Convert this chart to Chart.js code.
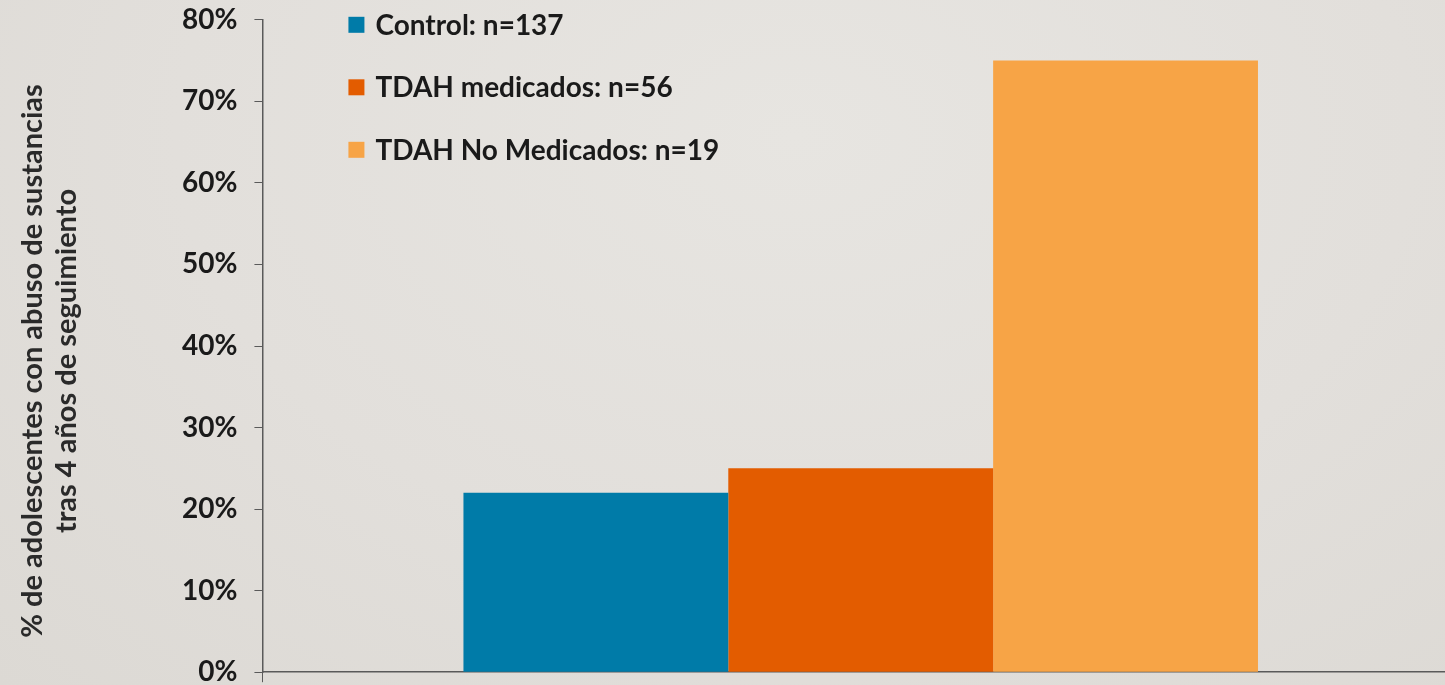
<!DOCTYPE html>
<html>
<head>
<meta charset="utf-8">
<script src="https://cdn.jsdelivr.net/npm/chart.js@4/dist/chart.umd.min.js"></script>
<style>
  html, body { margin: 0; padding: 0; }
  body {
    width: 1445px; height: 685px; overflow: hidden; position: relative;
    background: radial-gradient(ellipse at 55% 20%, #e7e5e1 0%, #e2dfdb 55%, #dcd9d4 100%);
  }
  /* canvas a bit larger than the window so the plot fills it like the slide */
  #wrap { position: absolute; left: 0; top: -14px; width: 1459px; height: 720px; }
</style>
</head>
<body>
<div id="wrap"><canvas id="chart"></canvas></div>
<script>
'use strict';

// chart data
const categories = [''];
const seriesLabels = ['Control: n=137', 'TDAH medicados: n=56', 'TDAH No Medicados: n=19'];
const seriesValues = [22, 25, 75];
const seriesColors = ['#007ba8', '#e35c00', '#f7a446'];
const yTitle = ['% de adolescentes con abuso de sustancias', 'tras 4 años de seguimiento'];

const FONT = 'Lato';
const axisColor = '#5a5a5a';

// legend drawn inside the chart area, top-left
const insideLegend = {
  id: 'insideLegend',
  afterDraw(chart) {
    const ctx = chart.ctx;
    const area = chart.chartArea;
    ctx.save();
    ctx.font = 'bold 28px ' + FONT;
    ctx.textBaseline = 'middle';
    chart.data.datasets.forEach(function (ds, i) {
      const x = area.left + 86;
      const y = area.top + 5 + i * 62.5;
      ctx.fillStyle = ds.backgroundColor;
      ctx.fillRect(x, y - 8, 16, 16);
      ctx.fillStyle = '#1a1a1a';
      ctx.fillText(ds.label, x + 27, y + 1);
    });
    ctx.restore();
  }
};

// two-line rotated y title, sitting a little below the plot centre as on the slide
const sideTitle = {
  id: 'sideTitle',
  afterDraw(chart) {
    const ctx = chart.ctx;
    const area = chart.chartArea;
    const cy = (area.top + area.bottom) / 2 + 15;
    ctx.save();
    ctx.font = 'bold 29px ' + FONT;
    ctx.fillStyle = '#2a2a2a';
    ctx.textAlign = 'center';
    ctx.textBaseline = 'alphabetic';
    yTitle.forEach(function (line, i) {
      ctx.save();
      ctx.translate(42 + i * 34, cy);
      ctx.rotate(-Math.PI / 2);
      ctx.fillText(line, 0, 0);
      ctx.restore();
    });
    ctx.restore();
  }
};

const ctxP = document.getElementById('chart').getContext('2d');

const chart = new Chart(ctxP, {
  type: 'bar',
  data: {
    labels: categories,
    datasets: seriesLabels.map(function (label, i) {
      return {
        label: label,
        data: [seriesValues[i]],
        backgroundColor: seriesColors[i],
        borderWidth: 0,
        barPercentage: 1.0,
        categoryPercentage: 0.664
      };
    })
  },
  options: {
    responsive: true,
    maintainAspectRatio: false,
    animation: false,
    layout: {
      padding: { top: 0, right: 0, bottom: 0, left: 165 }
    },
    plugins: {
      legend: { display: false },
      tooltip: { enabled: false }
    },
    scales: {
      x: {
        grid: {
          drawOnChartArea: false,
          drawTicks: true,
          tickLength: 10,
          color: axisColor
        },
        border: { color: axisColor, width: 1.5 },
        ticks: { display: false }
      },
      y: {
        min: 0,
        max: 80,
        ticks: {
          stepSize: 10,
          padding: 17,
          color: '#1a1a1a',
          font: { family: FONT, size: 28, weight: 'bold' },
          callback: function (v) { return v + '%'; }
        },
        grid: {
          drawOnChartArea: false,
          tickLength: 8,
          color: axisColor
        },
        border: { color: axisColor, width: 1.5 }
      }
    }
  },
  plugins: [insideLegend, sideTitle]
});
</script>
</body>
</html>
